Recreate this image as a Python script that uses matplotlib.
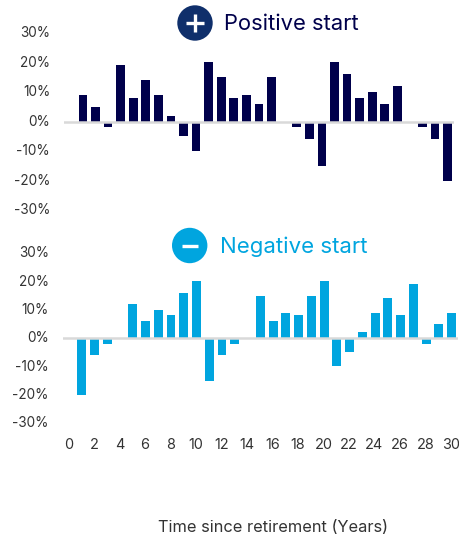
import matplotlib
matplotlib.use('Agg')
import matplotlib.pyplot as plt
from matplotlib.patches import Circle
from matplotlib.transforms import ScaledTranslation

plt.rcParams['font.family'] = ['Inter', 'DejaVu Sans']

W, H = 459, 534

years = list(range(1, 31))
positive_start = [9, 5, -2, 19, 8, 14, 9, 2, -5, -10, 20, 15, 8, 9, 6, 15, 0, -2, -6, -15,
                  20, 16, 8, 10, 6, 12, 0, -2, -6, -20]
negative_start = [-20, -6, -2, 0, 12, 6, 10, 8, 16, 20, -15, -6, -2, 0, 15, 6, 9, 8, 15, 20,
                  -10, -5, 2, 9, 14, 8, 19, -2, 5, 9]
y_ticks = [-30, -20, -10, 0, 10, 20, 30]
x_ticks = list(range(0, 31, 2))

NAVY = '#00004b'
BADGE = '#0f2f6b'
BLUE = '#00a5df'
GREY = '#333333'


def make_axes(fig, left, right, top, bottom):
    # pixel box, measured from the top left of the picture
    return fig.add_axes([left / W, 1 - bottom / H, (right - left) / W, (bottom - top) / H])


def draw_bars(ax, values, color):
    ax.bar(years, values, width=0.69, color=color, zorder=2)
    ax.axhline(0, color='#d9d9d9', lw=1.8, zorder=3)
    ax.set_xlim(-0.5, 30.5)
    ax.set_ylim(-30, 30)
    ax.set_yticks(y_ticks)
    ax.set_yticklabels([f'{v}%' for v in y_ticks])
    ax.tick_params(axis='y', length=0, pad=10, labelsize=9.8, labelcolor=GREY)
    # labels sit a little above their tick in the reference
    nudge = ScaledTranslation(0, 1.3 / 100, fig.dpi_scale_trans)
    for lab in ax.get_yticklabels():
        lab.set_transform(lab.get_transform() + nudge)
    for s in ax.spines.values():
        s.set_visible(False)
    ax.patch.set_visible(False)


fig = plt.figure(figsize=(W / 100, H / 100), dpi=100)

ax1 = make_axes(fig, 64, 454, 33, 210)
draw_bars(ax1, positive_start, NAVY)
ax1.set_xticks([])

ax2 = make_axes(fig, 62.7, 458, 253, 423)
draw_bars(ax2, negative_start, BLUE)
ax2.set_xticks(x_ticks)
ax2.tick_params(axis='x', length=0, pad=11, labelsize=10.4, labelcolor=GREY)
nudge_x = ScaledTranslation(-0.7 / 100, 0, fig.dpi_scale_trans)
for lab in ax2.get_xticklabels():
    lab.set_transform(lab.get_transform() + nudge_x)

# overlay for the round badges, in pixels
ov = fig.add_axes([0, 0, 1, 1])
ov.set_xlim(0, W)
ov.set_ylim(H, 0)
ov.axis('off')
ov.patch.set_visible(False)

ov.add_patch(Circle((195, 23), 17.7, color=BADGE, lw=0))
ov.plot([186, 204], [23, 23], color='white', lw=2.4, solid_capstyle='butt')
ov.plot([195, 195], [14, 32], color='white', lw=2.4, solid_capstyle='butt')
ov.text(224, 24, 'Positive start', color=NAVY, fontsize=15.8, va='center', ha='left')

ov.add_patch(Circle((189.7, 245.5), 17.7, color=BLUE, lw=0))
ov.plot([181.5, 198], [245.5, 245.5], color='white', lw=2.4, solid_capstyle='butt')
ov.text(220, 246.5, 'Negative start', color=BLUE, fontsize=16, va='center', ha='left')

ov.text(273.5, 527, 'Time since retirement (Years)', color=GREY, fontsize=11.8,
        va='center', ha='center')

fig.savefig('out.png', dpi=100)
